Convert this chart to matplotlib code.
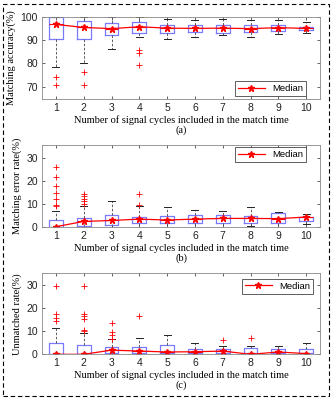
import matplotlib
matplotlib.use("Agg")
import matplotlib.pyplot as plt
from matplotlib.patches import Rectangle

# x categories: number of signal cycles
cycles = [1, 2, 3, 4, 5, 6, 7, 8, 9, 10]

# (a) matching accuracy (%)
acc_med = [96.8, 95.5, 95.0, 95.8, 95.2, 95.1, 95.2, 95.0, 95.4, 95.1]
acc_q1 = [90.6, 90.6, 92.1, 93.1, 93.2, 93.5, 92.9, 93.5, 93.8, 94.4]
acc_q3 = [100.0, 98.1, 97.4, 98.0, 96.5, 96.7, 96.7, 96.4, 96.4, 95.8]
acc_lo = [78.4, 80.1, 86.4, 91.6, 90.6, 91.6, 92.2, 91.5, 92.5, 93.1]
acc_hi = [100.0, 100.0, 100.0, 100.0, 99.1, 98.8, 99.1, 98.6, 98.8, 97.8]
acc_out = [[74.3, 70.6], [76.3, 70.6], [], [85.9, 84.3, 79.5], [], [], [], [], [], []]

# (b) matching error rate (%)
err_med = [0.0, 2.3, 2.7, 3.3, 2.9, 3.3, 3.6, 3.6, 3.5, 4.2]
err_q1 = [0.0, 0.3, 0.6, 1.6, 1.5, 1.7, 1.7, 1.5, 1.7, 2.3]
err_q3 = [3.0, 3.9, 5.2, 4.3, 4.6, 4.9, 4.9, 4.6, 6.1, 4.3]
err_lo = [0.0, 0.0, 0.0, 0.0, 0.0, 0.0, 0.0, 0.5, 0.0, 1.3]
err_hi = [6.7, 8.8, 11.3, 8.8, 8.4, 7.2, 6.9, 8.5, 6.3, 5.6]
err_out = [[25.8, 21.8, 17.5, 14.7, 12.1, 9.3, 8.8],
           [14.0, 13.2, 12.1, 11.1, 10.0],
           [], [14.3, 9.3], [], [], [], [], [], []]

# (c) unmatched rate (%)
unm_med = [0.0, 0.0, 1.8, 1.4, 1.0, 1.1, 1.4, 0.0, 1.0, 0.3]
unm_q1 = [0.0, 0.0, 0.4, 0.4, 0.7, 0.4, 0.4, 0.4, 0.4, 0.4]
unm_q3 = [4.85, 3.9, 3.0, 3.0, 3.9, 2.3, 2.3, 2.6, 2.3, 2.3]
unm_lo = [0.0] * 10
unm_hi = [11.3, 9.4, 6.4, 6.9, 8.4, 4.85, 3.4, 3.5, 3.4, 4.85]
unm_out = [[29.3, 17.6, 15.7, 14.4],
           [29.3, 17.6, 16.4, 15.2, 10.7, 10.0],
           [13.4, 9.6, 8.3, 6.6], [16.4], [], [], [6.0], [6.9], [], []]

W, H = 332, 398
SERIF = "Liberation Serif"
SANS = "Liberation Sans"


def make_stats(med, q1, q3, lo, hi, out):
    stats = []
    for i in range(len(med)):
        stats.append(dict(med=med[i], q1=q1[i], q3=q3[i],
                          whislo=lo[i], whishi=hi[i], fliers=out[i]))
    return stats


def draw_panel(fig, top, bottom, data, ylabel, ylim, yticks, caption, legend_loc, anchor):
    ax = fig.add_axes([42 / W, 1 - bottom / H, (320 - 42) / W, (bottom - top) / H])
    stats = make_stats(*data)
    ax.bxp(stats, positions=cycles, widths=0.5, capwidths=0.25,
           boxprops=dict(color="#7a7aff", linewidth=0.9),
           whiskerprops=dict(color="#444444", linewidth=0.6, linestyle=(0, (3, 2))),
           capprops=dict(color="#222222", linewidth=0.7),
           medianprops=dict(color="red", linewidth=0.8),
           flierprops=dict(marker="+", markeredgecolor="red", markersize=5,
                           markeredgewidth=0.6, linestyle="none"))
    ax.plot(cycles, data[0], color="red", linewidth=0.9, marker="*",
            markersize=4.5, label="Median")
    ax.set_xlim(0.5, 10.5)
    ax.set_ylim(*ylim)
    ax.set_yticks(yticks)
    ax.set_xticks(cycles)
    ax.set_xticklabels([str(c) for c in cycles])
    ax.tick_params(direction="in", top=True, right=True, length=2.5,
                   width=0.5, labelsize=7.5, pad=3, colors="#222222")
    for lab in ax.get_xticklabels() + ax.get_yticklabels():
        lab.set_fontfamily(SANS)
    for sp in ax.spines.values():
        sp.set_color("#888888")
        sp.set_linewidth(0.6)
    ax.set_ylabel(ylabel, fontfamily=SERIF, fontsize=7.5, labelpad=3)
    ax.set_xlabel("Number of signal cycles included in the match time",
                  fontfamily=SERIF, fontsize=7.5, labelpad=1.5)
    leg = ax.legend(loc=legend_loc, bbox_to_anchor=anchor,
                    prop=dict(family=SANS, size=6.8),
                    fancybox=False, framealpha=1, edgecolor="#444444",
                    handlelength=2.8, borderpad=0.3, borderaxespad=0.0)
    leg.get_frame().set_linewidth(0.6)
    fig.text(0.5 * (42 + 320) / W, 1 - (bottom + 31) / H, caption,
             fontfamily=SERIF, fontsize=7.5, ha="center", va="center")
    return ax


fig = plt.figure(figsize=(W / 100, H / 100), dpi=100)

draw_panel(fig, 17, 99, (acc_med, acc_q1, acc_q3, acc_lo, acc_hi, acc_out),
           "Matching accuracy(%)", (64.7, 100), [70, 80, 90, 100], "(a)",
           "lower right", (0.95, 0.04))
draw_panel(fig, 145, 226.7, (err_med, err_q1, err_q3, err_lo, err_hi, err_out),
           "Matching error rate(%)", (0, 35.5), [0, 10, 20, 30], "(b)",
           "upper right", (0.95, 0.97))
draw_panel(fig, 273.3, 354.3, (unm_med, unm_q1, unm_q3, unm_lo, unm_hi, unm_out),
           "Unmatched rate(%)", (0, 35), [0, 10, 20, 30], "(c)",
           "upper right", (0.975, 0.93))

# dashed frame around the whole figure
fig.patches.append(Rectangle((2.5 / W, 2.5 / H), 1 - 6 / W, 1 - 6 / H,
                             transform=fig.transFigure, fill=False,
                             edgecolor="black", linewidth=0.8,
                             linestyle=(0, (4, 2.5))))

fig.savefig("out.png", dpi=100)
